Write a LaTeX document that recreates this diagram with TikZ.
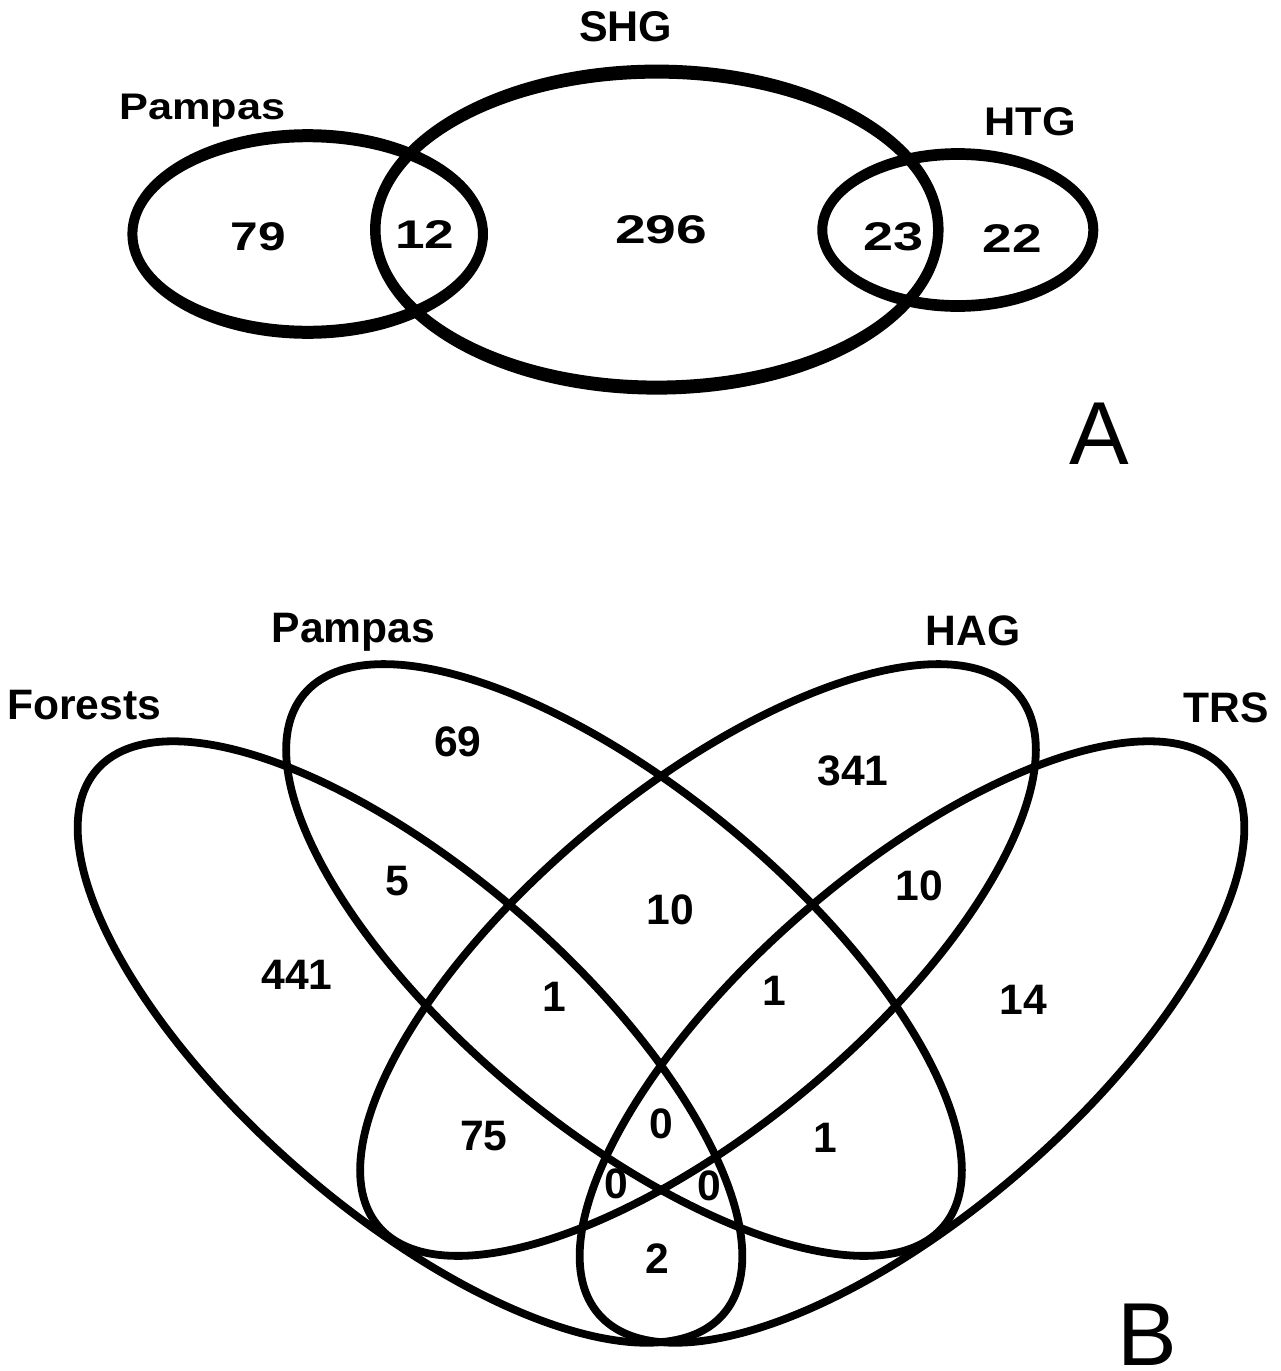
\documentclass[tikz,border=0pt]{standalone}
\usepackage{fontspec}
\setmainfont{Liberation Sans}
\begin{document}
\begin{tikzpicture}[x=0.5pt,y=-0.5pt,
  vset/.style={line width=3.9pt},
  ring/.style={fill=black, even odd rule},
  lblA/.style={font=\fontsize{#1}{#1}\selectfont\bfseries, inner sep=0pt, anchor=base},
  numA/.style={font=\fontsize{20pt}{20pt}\selectfont\bfseries, inner sep=0pt, anchor=base},
  txtB/.style={font=\fontsize{21.3pt}{21.3pt}\selectfont\bfseries, inner sep=0pt, anchor=base},
  panel/.style={font=\fontsize{44.7pt}{44.7pt}\selectfont, inner sep=0pt, anchor=base}]
\useasboundingbox (0,0) rectangle (1280,1371);
% ---------------- Panel A ----------------
\fill[ring] (307.7,234) ellipse (180.3 and 104.8) (307.7,234) ellipse (170.3 and 91.8);
\fill[ring] (656.8,229.6) ellipse (286.75 and 165) (656.8,229.6) ellipse (276.25 and 151);
\fill[ring] (957.8,230) ellipse (140.5 and 81.85) (957.8,230) ellipse (130.5 and 70.15);
\node[lblA=18.5pt] (pampasA) at (202.2,119.3) {\scalebox{1.17}[1]{Pampas}};
\node[lblA=21.5pt] (shg) at (625.8,41.7) {SHG};
\node[lblA=20pt] (htg) at (1030,135) {\scalebox{1.08}[1]{HTG}};
\node[numA] (n79) at (258.3,250.7) {\scalebox{1.24}[1]{79}};
\node[numA] (n12) at (425,248.3) {\scalebox{1.33}[1]{12}};
\node[numA] (n296) at (661.3,243.3) {\scalebox{1.38}[1]{296}};
\node[numA] (n23) at (893.3,250) {\scalebox{1.35}[1]{23}};
\node[numA] (n22) at (1012.5,252.3) {\scalebox{1.33}[1]{22}};
\node[panel] (labA) at (1099.7,464) {A};
% ---------------- Panel B ----------------
\draw[vset, rotate around={-41:(410,1042)}] (410,1042) ellipse (415 and 169);
\draw[vset, rotate around={-39.7:(624,960)}] (624,960) ellipse (416 and 169);
\draw[vset, rotate around={39.7:(698,960)}] (698,960) ellipse (416 and 169);
\draw[vset, rotate around={41:(912,1042)}] (912,1042) ellipse (415 and 169);
\node[txtB] (forests) at (84,719) {Forests};
\node[txtB] (pampasB) at (353.5,642) {Pampas};
\node[txtB] (hag) at (973,645.5) {HAG};
\node[txtB] (trs) at (1226,722.8) {TRS};
\node[txtB] (b69) at (458,756) {69};
\node[txtB] (b341) at (853,785.6) {341};
\node[txtB] (b5) at (397,895) {5};
\node[txtB] (b10c) at (670,924) {10};
\node[txtB] (b10r) at (919,900.5) {10};
\node[txtB] (b441) at (297,989) {441};
\node[txtB] (b1l) at (554.5,1011) {1};
\node[txtB] (b1c) at (774.4,1005) {1};
\node[txtB] (b14) at (1023,1014) {14};
\node[txtB] (b75) at (484,1150) {75};
\node[txtB] (b1r) at (825.4,1152) {1};
\node[txtB] (b0t) at (661.7,1138.3) {0};
\node[txtB] (b0l) at (616.7,1198.3) {0};
\node[txtB] (b0r) at (709.3,1200) {0};
\node[txtB] (b2) at (657.5,1273.3) {2};
\node[panel] (labB) at (1147.5,1365) {B};
\end{tikzpicture}
\end{document}
